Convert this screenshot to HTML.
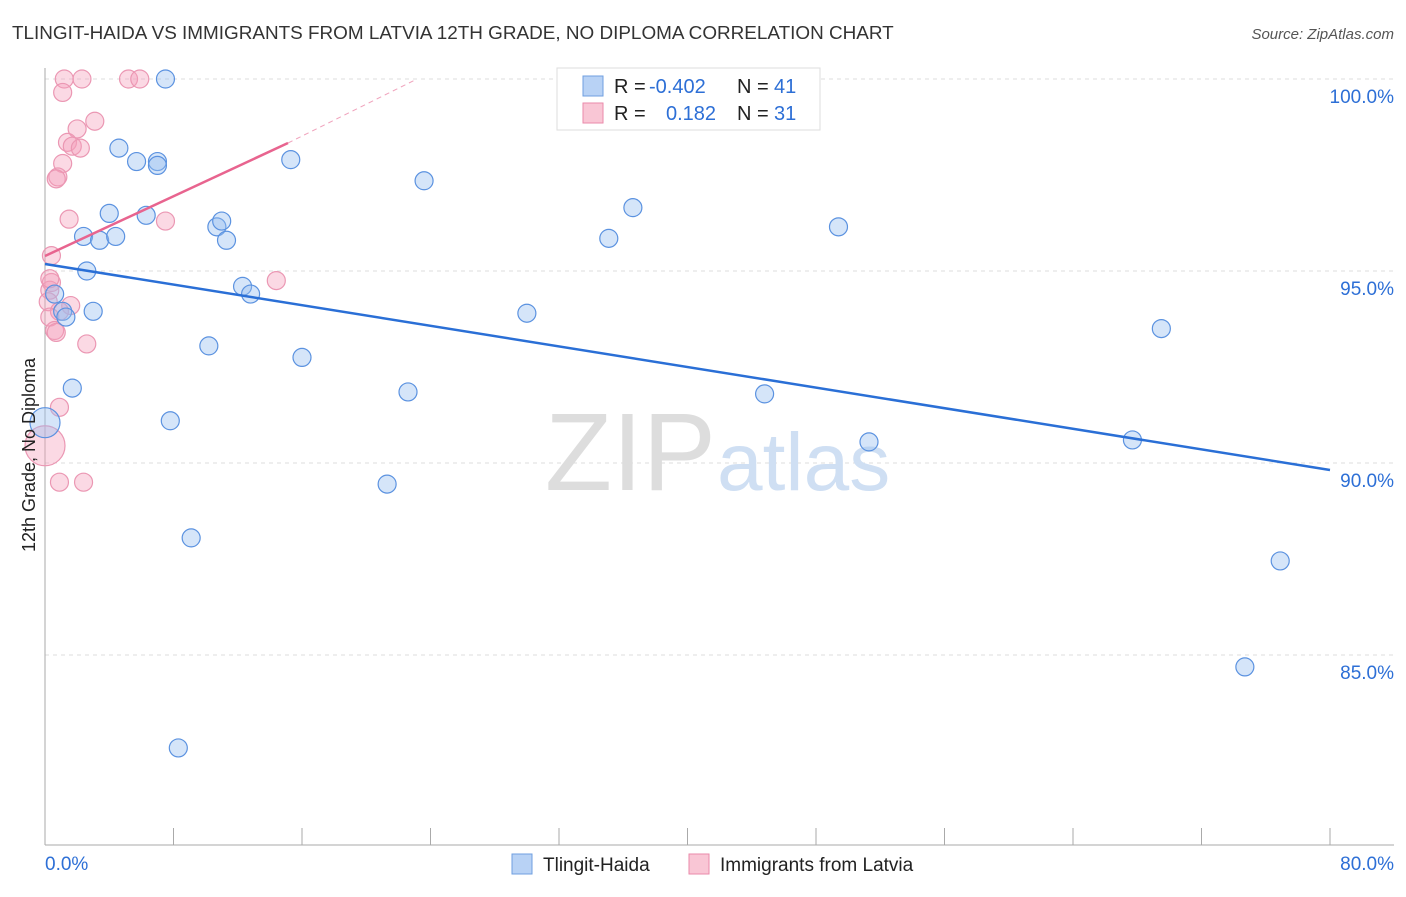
<!DOCTYPE html>
<html><head><meta charset="utf-8"><style>
body{margin:0;background:#fff;font-family:"Liberation Sans",sans-serif;}
svg text{font-family:"Liberation Sans",sans-serif;}
</style></head><body>
<svg id="chart" width="1406" height="892">
<text x="12" y="39" font-size="18.9" fill="#333">TLINGIT-HAIDA VS IMMIGRANTS FROM LATVIA 12TH GRADE, NO DIPLOMA CORRELATION CHART</text>
<text x="1394" y="39" font-size="15" fill="#555" font-style="italic" text-anchor="end">Source: ZipAtlas.com</text>
<g id="grid"></g>
<text x="716" y="490" font-size="110" fill="#ddd" text-anchor="end" font-family="Liberation Serif">ZIP</text>
<text x="717" y="490" font-size="82" fill="#cfdff3">atlas</text>
<g id="points"></g>
<g id="lines"></g>
<text transform="translate(35,455) rotate(-90)" font-size="18" fill="#222" text-anchor="middle">12th Grade, No Diploma</text>
<g>
<rect x="557" y="68" width="263" height="62" fill="#fff" stroke="#ddd"/>
<rect x="583" y="76" width="20" height="20" fill="#b8d2f5" stroke="#6f9fe0"/>
<rect x="583" y="103" width="20" height="20" fill="#f9c6d5" stroke="#ea8aaa"/>
<text y="93" font-size="20" fill="#222"><tspan x="614">R = </tspan><tspan x="649" fill="#2d6fd6">-0.402</tspan><tspan x="737">N = </tspan><tspan x="774" fill="#2d6fd6">41</tspan></text>
<text y="120" font-size="20" fill="#222"><tspan x="614">R = </tspan><tspan fill="#2d6fd6" x="666">0.182</tspan><tspan x="737">N = </tspan><tspan x="774" fill="#2d6fd6">31</tspan></text>
</g>
<g>
<rect x="512" y="854" width="20" height="20" fill="#b8d2f5" stroke="#6f9fe0"/>
<text x="543" y="871" font-size="19" fill="#222">Tlingit-Haida</text>
<rect x="689" y="854" width="20" height="20" fill="#f9c6d5" stroke="#ea8aaa"/>
<text x="720" y="871" font-size="19" fill="#222">Immigrants from Latvia</text>
</g>
</svg>
<script>
const xTicks=[0,8,16,24,32,40,48,56,64,72,80];
const yTicks=[100,95,90,85];
const yTickLabels=["100.0%","95.0%","90.0%","85.0%"];
const blueX=[7.5,4.6,5.7,7.0,7.0,15.3,23.6,36.6,4.0,6.3,10.7,11.0,11.3,2.4,3.4,4.4,35.1,49.4,2.6,12.3,12.8,0.6,3.0,1.1,1.3,30.0,69.5,10.2,16.0,1.7,22.6,44.8,7.8,0.0,51.3,67.7,21.3,9.1,76.9,74.7,8.3];
const blueY=[100,98.2,97.85,97.85,97.75,97.9,97.35,96.65,96.5,96.45,96.15,96.3,95.8,95.9,95.8,95.9,95.85,96.15,95.0,94.6,94.4,94.4,93.95,93.95,93.8,93.9,93.5,93.05,92.75,91.95,91.85,91.8,91.1,91.05,90.55,90.6,89.45,88.05,87.45,84.69,82.58];
const pinkX=[1.2,2.3,5.2,5.9,1.1,3.1,2.0,1.4,1.7,2.2,1.1,0.8,0.7,1.5,7.5,0.4,14.4,0.4,0.3,0.2,1.6,0.9,0.3,0.6,0.7,2.6,0.9,0.0,0.9,2.4,0.3];
const pinkY=[100,100,100,100,99.65,98.9,98.7,98.35,98.25,98.2,97.8,97.45,97.4,96.35,96.3,95.4,94.75,94.7,94.5,94.2,94.1,93.95,93.8,93.45,93.4,93.1,91.45,90.45,89.5,89.5,94.8];
const bigBlue=33, bigPink=27;
const X=v=>45+v*(1285/80), Y=v=>79+(100-v)*38.4;
const NS="http://www.w3.org/2000/svg";
function mk(tag,attrs,parent){const e=document.createElementNS(NS,tag);for(const k in attrs)e.setAttribute(k,attrs[k]);parent.appendChild(e);return e;}
const g=document.getElementById('grid');
yTicks.forEach((t,i)=>{
 const l=mk('line',{x1:45,x2:1394,y1:Y(t),y2:Y(t),stroke:'#ddd','stroke-dasharray':'4,4'},g);
 
 
 const tx=mk('text',{x:1394,y:Y(t)+24,'font-size':19,fill:'#2d6fd6','text-anchor':'end'},g);
 tx.textContent=yTickLabels[i];
 
 
});
const ax=mk('line',{x1:45,x2:45,y1:68,y2:845,stroke:'#aaa'},g);


const bx=mk('line',{x1:45,x2:1394,y1:845,y2:845,stroke:'#aaa'},g);


xTicks.forEach(t=>{
 const l=mk('line',{x1:X(t),x2:X(t),y1:828,y2:845,stroke:'#aaa'},g);
 
 
});
const xl0=mk('text',{x:45,y:870,'font-size':19,fill:'#2d6fd6'},g);xl0.textContent='0.0%';


const xl1=mk('text',{x:1394,y:870,'font-size':19,fill:'#2d6fd6','text-anchor':'end'},g);xl1.textContent='80.0%';


const p=document.getElementById('points');
pinkX.forEach((v,i)=>{
 const c=mk('circle',{cx:X(v),cy:Y(pinkY[i]),r:i===bigPink?20:9,fill:'rgba(244,160,188,0.4)',stroke:'#eb97b3','stroke-width':1.2},p);
 
 
});
blueX.forEach((v,i)=>{
 const c=mk('circle',{cx:X(v),cy:Y(blueY[i]),r:i===bigBlue?15:9,fill:'rgba(150,190,240,0.4)',stroke:'#5b92e0','stroke-width':1.2},p);
 
 
});
const L=document.getElementById('lines');
const bl=mk('line',{x1:X(0),y1:264,x2:X(80),y2:470,stroke:'#2a6fd6','stroke-width':2.5},L);


const pl=mk('line',{x1:X(0),y1:256,x2:288,y2:143,stroke:'#e8648f','stroke-width':2.5},L);


const pd=mk('line',{x1:288,y1:143,x2:415,y2:80,stroke:'#f0a4bd','stroke-width':1,'stroke-dasharray':'5,4'},L);


</script>
</body></html>
